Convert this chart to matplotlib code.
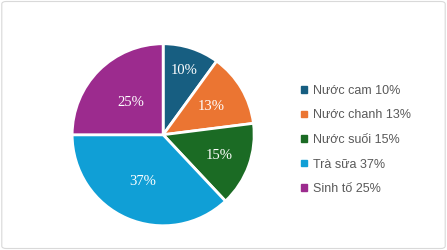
import numpy as np
import matplotlib.pyplot as plt
from matplotlib.patches import FancyBboxPatch

labels = ['Nước cam', 'Nước chanh', 'Nước suối', 'Trà sữa', 'Sinh tố']
values = [10, 13, 15, 37, 25]
colors = ['#175e81', '#eb7532', '#1b6b24', '#109fd6', '#9c2b8e']
# "best fit" style label distances (fraction of radius)
label_dist = [0.74, 0.62, 0.66, 0.56, 0.50]

fig = plt.figure(figsize=(4.47, 2.5), dpi=100)

# light border around the chart area
border = FancyBboxPatch((0.004, 0.006), 0.992, 0.988, boxstyle='round,pad=0,rounding_size=0.01',
                        transform=fig.transFigure, facecolor='none', edgecolor='#d9d9d9', lw=0.8,
                        zorder=-1)
fig.patches.append(border)

ax = fig.add_axes([0.11, 0.006, 0.51, 0.91])
wedges, texts, autotexts = ax.pie(
    values, colors=colors, startangle=90, counterclock=False,
    autopct='%d%%', pctdistance=0.65, radius=1.0,
    wedgeprops=dict(edgecolor='white', linewidth=2),
    textprops=dict(color='white', fontsize=10.5, family='Liberation Serif'))
ax.set_aspect('equal')

# move each percentage label along its wedge's bisector
for w, t, d in zip(wedges, autotexts, label_dist):
    mid = np.deg2rad((w.theta1 + w.theta2) / 2)
    t.set_position((d * np.cos(mid), d * np.sin(mid)))

handles = [plt.Rectangle((0, 0), 1, 1, color=c) for c in colors]
legend_labels = [f'{l} {v}%' for l, v in zip(labels, values)]
fig.legend(handles, legend_labels, loc='center left', bbox_to_anchor=(0.648, 0.44),
           frameon=False, handlelength=0.45, handleheight=0.45, handletextpad=0.5,
           labelspacing=1.0, prop=dict(family='Liberation Sans', size=9),
           labelcolor='#595959')

fig.savefig('out.png', dpi=100)
